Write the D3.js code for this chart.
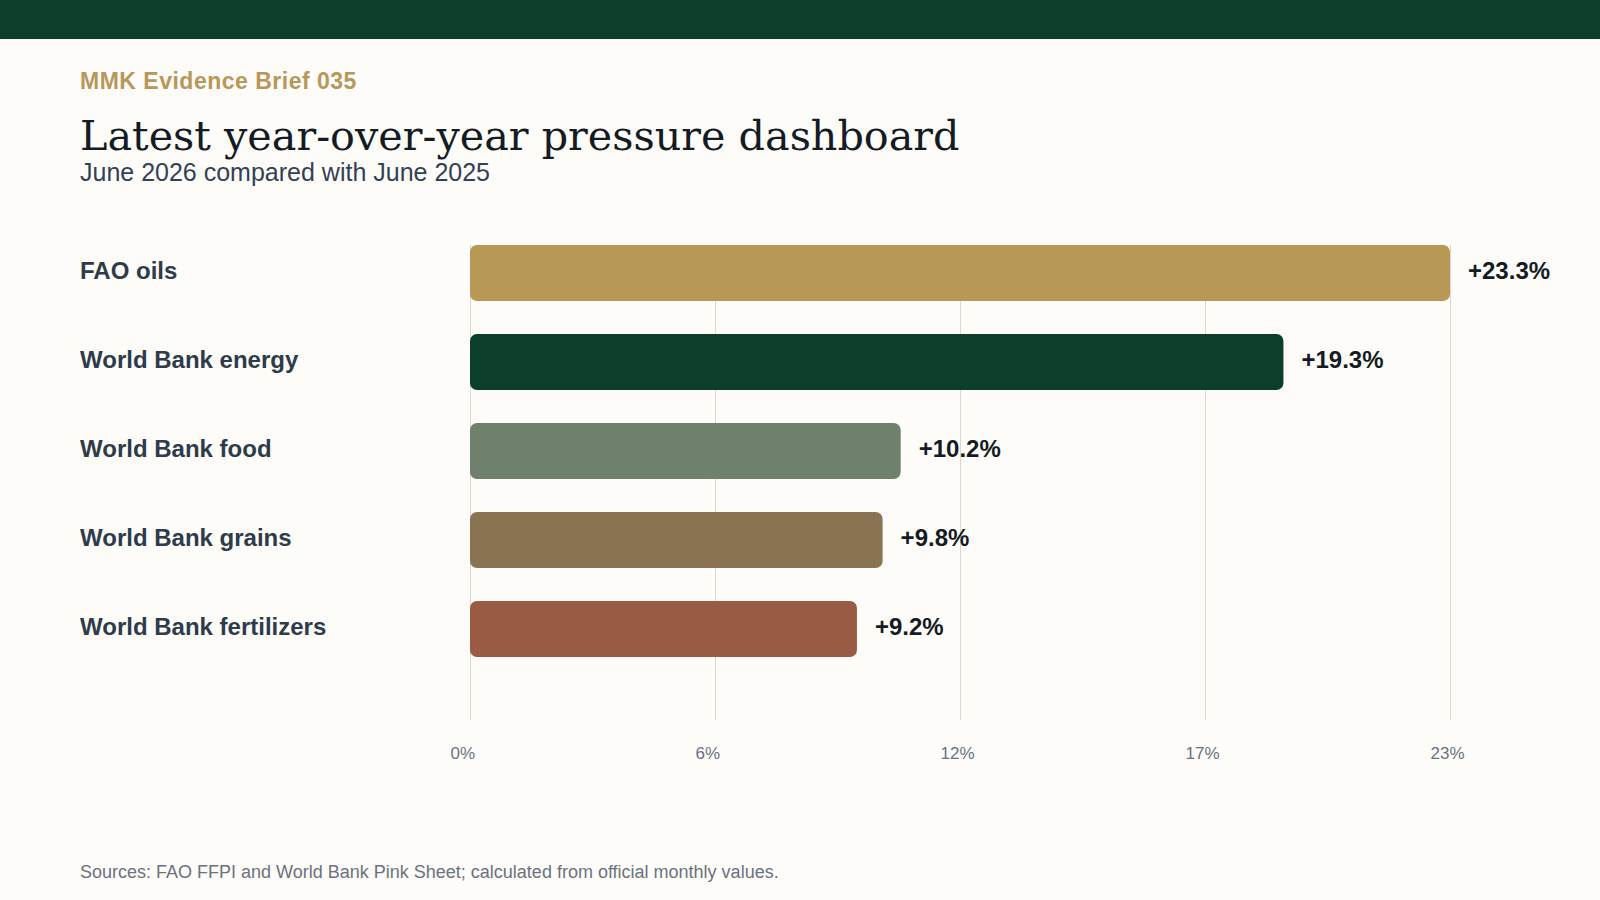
<!DOCTYPE html>
<html>
<head>
<meta charset="utf-8">
<script src="https://cdn.jsdelivr.net/npm/d3@7/dist/d3.min.js"></script>
<style>
  html, body { margin: 0; padding: 0; background: #fdfcf8; }
  svg { display: block; }
</style>
</head>
<body>
<svg id="chart" width="1600" height="900"></svg>
<script>
// ---- Data ----
const categories = ["FAO oils", "World Bank energy", "World Bank food", "World Bank grains", "World Bank fertilizers"];
const values = [23.3, 19.34, 10.24, 9.81, 9.2];
const barColors = ["#b89855", "#0b3f2b", "#6f806d", "#8a7352", "#9a5b45"];
const tickFractions = [0, 0.25, 0.5, 0.75, 1];

const eyebrow = "MMK Evidence Brief 035";
const title = "Latest year-over-year pressure dashboard";
const subtitle = "June 2026 compared with June 2025";
const source = "Sources: FAO FFPI and World Bank Pink Sheet; calculated from official monthly values.";

// ---- Layout ----
const W = 1600, H = 900;
const plotLeft = 470, plotRight = 1450;
const plotTop = 245, barsBottom = 657, gridBottom = 720;
const sans = "'Liberation Sans', Arial, Helvetica, sans-serif";
const serif = "'DejaVu Serif', Georgia, serif";

const svg = d3.select("#chart");

svg.append("rect").attr("x", 0).attr("y", 0).attr("width", W).attr("height", H).attr("fill", "#fdfcf8");
svg.append("rect").attr("x", 0).attr("y", 0).attr("width", W).attr("height", 39).attr("fill", "#0b3f2b");

svg.append("text").attr("x", 80).attr("y", 89)
  .attr("font-family", sans).attr("font-weight", 700).attr("font-size", 23)
  .attr("letter-spacing", "0.5px")
  .attr("fill", "#b8975a").text(eyebrow);

const titleText = svg.append("text").attr("x", 80).attr("y", 150)
  .attr("font-family", serif).attr("font-size", 48)
  .attr("fill", "#141b24").text(title);
// fit title to its width in the reference (~880px)
const tLen = titleText.node().getComputedTextLength();
if (tLen > 0) titleText.attr("font-size", 48 * 880 / tLen);

svg.append("text").attr("x", 80).attr("y", 181)
  .attr("font-family", sans).attr("font-size", 25)
  .attr("fill", "#334155").text(subtitle);

// ---- Scales ----
const xMax = d3.max(values);
const x = d3.scaleLinear().domain([0, xMax]).range([plotLeft, plotRight]);
const y = d3.scaleBand().domain(categories).range([plotTop, barsBottom]).paddingInner(0.37).paddingOuter(0);
const tickValues = tickFractions.map(f => f * xMax);

// ---- Grid / axis ----
const axis = d3.axisBottom(x)
  .tickValues(tickValues)
  .tickSize(-(gridBottom - plotTop))
  .tickFormat(d => d3.format(".0f")(d) + "%");

const gAxis = svg.append("g").attr("transform", `translate(0,${gridBottom})`).call(axis);
gAxis.select(".domain").remove();
gAxis.selectAll(".tick line").attr("stroke", "#dcd7cb").attr("stroke-width", 1);
gAxis.selectAll(".tick text")
  .attr("x", -20).attr("y", 39).attr("dy", 0)
  .attr("text-anchor", "start")
  .attr("font-family", sans).attr("font-size", 17)
  .attr("fill", "#6b7280");

// ---- Bars ----
const data = categories.map((c, i) => ({ c, v: values[i], color: barColors[i] }));

svg.append("g").selectAll("rect").data(data).join("rect")
  .attr("x", x(0))
  .attr("y", d => y(d.c))
  .attr("width", d => x(d.v) - x(0))
  .attr("height", y.bandwidth())
  .attr("rx", 7).attr("ry", 7)
  .attr("fill", d => d.color);

// Category labels
svg.append("g").selectAll("text").data(data).join("text")
  .attr("x", 80)
  .attr("y", d => y(d.c) + y.bandwidth() / 2)
  .attr("dy", "0.26em")
  .attr("font-family", sans).attr("font-weight", 700).attr("font-size", 24)
  .attr("fill", "#2d3b4a")
  .text(d => d.c);

// Value labels
svg.append("g").selectAll("text").data(data).join("text")
  .attr("x", d => x(d.v) + 18)
  .attr("y", d => y(d.c) + y.bandwidth() / 2)
  .attr("dy", "0.26em")
  .attr("font-family", sans).attr("font-weight", 700).attr("font-size", 24)
  .attr("fill", "#141b24")
  .text(d => "+" + d3.format(".1f")(d.v) + "%");

// Source
svg.append("text").attr("x", 80).attr("y", 878)
  .attr("font-family", sans).attr("font-size", 18)
  .attr("fill", "#6b7280").text(source);
</script>
</body>
</html>
